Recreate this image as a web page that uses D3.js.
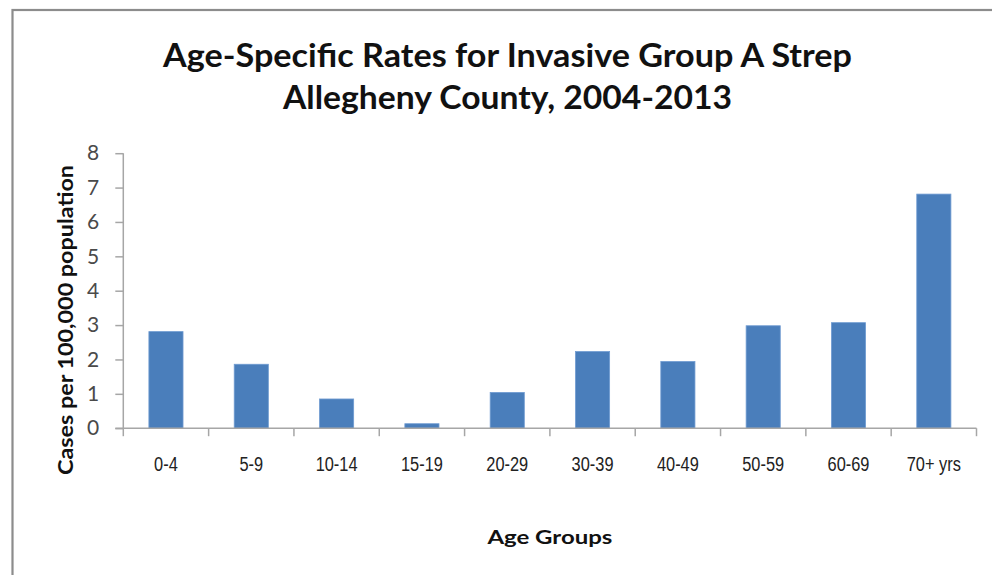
<!DOCTYPE html>
<html>
<head>
<meta charset="utf-8">
<script src="https://cdn.jsdelivr.net/npm/d3@7"></script>
<style>
  html, body { margin: 0; padding: 0; background: #fff; }
  svg { display: block; }
</style>
</head>
<body>
<svg id="chart" width="992" height="575"></svg>
<script>
const categories = ["0-4", "5-9", "10-14", "15-19", "20-29", "30-39", "40-49", "50-59", "60-69", "70+ yrs"];
const rates = [2.81, 1.86, 0.85, 0.13, 1.04, 2.23, 1.94, 2.98, 3.07, 6.81];
const yTicks = [0, 1, 2, 3, 4, 5, 6, 7, 8];
const titleLines = ["Age-Specific Rates for Invasive Group A Strep", "Allegheny County, 2004-2013"];
const xTitle = "Age Groups";
const yTitle = "Cases per 100,000 population";

const svg = d3.select("#chart");

// outer chart border
svg.append("rect")
  .attr("x", 12.5).attr("y", 10)
  .attr("width", 1000).attr("height", 600)
  .attr("fill", "#fff")
  .attr("stroke", "#8c8c8c").attr("stroke-width", 2.2);

const plot = { left: 123.3, right: 976.5, top: 153.2, bottom: 428.2 };

const x = d3.scaleBand()
  .domain(categories)
  .range([plot.left, plot.right])
  .paddingInner(0.6)
  .paddingOuter(0.3);

const y = d3.scaleLinear()
  .domain([0, 8])
  .range([plot.bottom, plot.top]);

const axisColor = "#a6a6a6";
const textFont = "Lato, 'Open Sans', sans-serif";

// title
svg.append("g").selectAll("text")
  .data(titleLines)
  .join("text")
  .attr("x", 507.5)
  .attr("y", (d, i) => 67 + i * 42)
  .attr("text-anchor", "middle")
  .attr("font-family", textFont)
  .attr("font-weight", "bold")
  .attr("font-size", 33)
  .attr("fill", "#111")
  .attr("textLength", (d, i) => i === 0 ? 689 : 449)
  .attr("lengthAdjust", "spacingAndGlyphs")
  .text(d => d);

// bars
svg.append("g").selectAll("rect")
  .data(rates)
  .join("rect")
  .attr("x", (d, i) => x(categories[i]))
  .attr("y", d => y(d))
  .attr("width", x.bandwidth())
  .attr("height", d => y(0) - y(d))
  .attr("fill", "#4a7ebb")
  .attr("stroke", "#6f9bd1")
  .attr("stroke-width", 0.8);

// y axis
const yAxis = d3.axisLeft(y)
  .tickValues(yTicks)
  .tickSize(8)
  .tickPadding(16)
  .tickFormat(d3.format("d"));
const gy = svg.append("g")
  .attr("transform", `translate(${plot.left},0)`)
  .call(yAxis);
gy.select(".domain").attr("stroke", axisColor).attr("stroke-width", 1.5)
  .attr("d", `M0,${plot.top}V${plot.bottom}`);
gy.selectAll(".tick line").attr("stroke", axisColor).attr("stroke-width", 1.5);
gy.selectAll(".tick text")
  .attr("font-family", textFont)
  .attr("font-size", 21)
  .attr("fill", "#4a4a4a");

// x axis
const xAxis = d3.axisBottom(x).tickSize(0).tickPadding(28);
const gx = svg.append("g")
  .attr("transform", `translate(0,${plot.bottom})`)
  .call(xAxis);
gx.select(".domain").attr("stroke", axisColor).attr("stroke-width", 1.5)
  .attr("d", `M${plot.left - 8},0H${plot.right}`);
gx.selectAll(".tick text")
  .attr("font-family", "'Liberation Sans', Arial, sans-serif")
  .attr("font-size", 21)
  .attr("transform", "scale(0.78,1)")
  .attr("fill", "#222");

// x tick marks at category boundaries
const boundaries = d3.range(categories.length + 1).map(i => plot.left + i * x.step());
gx.append("g").selectAll("line")
  .data(boundaries)
  .join("line")
  .attr("x1", d => d).attr("x2", d => d)
  .attr("y1", 0).attr("y2", 8)
  .attr("stroke", axisColor).attr("stroke-width", 1.5);

// axis titles
svg.append("text")
  .attr("x", (plot.left + plot.right) / 2)
  .attr("y", 544)
  .attr("text-anchor", "middle")
  .attr("font-family", textFont)
  .attr("font-weight", "bold")
  .attr("font-size", 19)
  .attr("fill", "#111")
  .attr("textLength", 125)
  .attr("lengthAdjust", "spacingAndGlyphs")
  .text(xTitle);

svg.append("text")
  .attr("transform", "translate(73,320) rotate(-90)")
  .attr("text-anchor", "middle")
  .attr("font-family", textFont)
  .attr("font-weight", "bold")
  .attr("font-size", 20)
  .attr("fill", "#111")
  .attr("textLength", 310)
  .attr("lengthAdjust", "spacingAndGlyphs")
  .text(yTitle);
</script>
</body>
</html>
